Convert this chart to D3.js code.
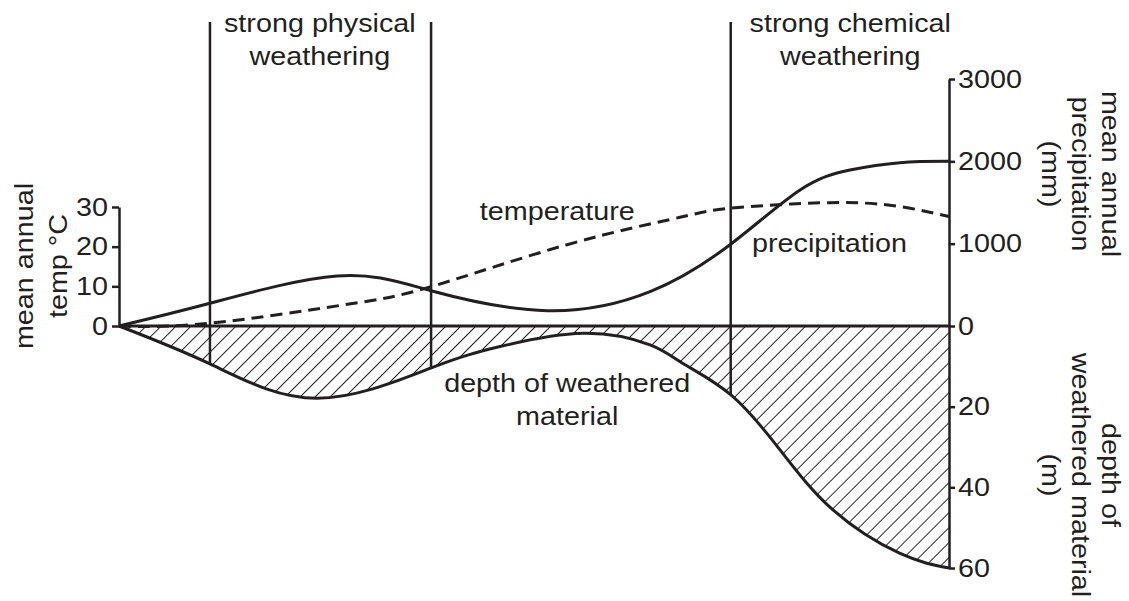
<!DOCTYPE html>
<html>
<head>
<meta charset="utf-8">
<script src="https://cdn.jsdelivr.net/npm/d3@7"></script>
<style>
  body { margin: 0; background: #fff; }
  svg { display: block; font-family: "Liberation Sans", Arial, Helvetica, sans-serif; }
</style>
</head>
<body>
<svg id="chart" width="1129" height="601"></svg>
<script>
// position along the climate gradient, 0 = cold and dry, 100 = hot and wet
const precipPos = [0, 10.96, 26.27, 37.71, 51.57, 63.98, 73.73, 82.05, 88.07, 94.1, 100];
const precipMm  = [0, 276, 607, 425, 186, 417, 996, 1652, 1895, 1984, 2000];

const tempPos = [0, 10.96, 26.99, 37.59, 53.98, 67.59, 73.73, 85.66, 94.1, 100];
const tempC   = [0, 0.7, 5.3, 9.9, 20.5, 27.4, 29.7, 31.1, 30.1, 27.6];

const depthPos = [0, 10.96, 23.86, 37.71, 45.9, 55.9, 63.98, 67.95, 73.73, 79.64, 86.02, 94.1, 100];
const depthM   = [0, 9.4, 17.9, 10.3, 5.1, 1.8, 4.7, 9.3, 17.1, 30.7, 45.6, 56.4, 60];

// boundaries of the weathering zones
const zoneBounds = [10.96, 37.6, 73.7];

const tempTicks = [0, 10, 20, 30];
const precipTicks = [0, 1000, 2000, 3000];
const depthTicks = [20, 40, 60];

const ink = '#231f20';
const fontSize = 25;
const stretch = 1.15; // text in the reference is a bit wide

const svg = d3.select('#chart');

const x = d3.scaleLinear().domain([0, 100]).range([119, 949]);
const yT = d3.scaleLinear().domain([0, 30]).range([326, 207]);
const yP = d3.scaleLinear().domain([0, 3000]).range([326, 79]);
const yD = d3.scaleLinear().domain([0, 60]).range([326, 568]);

const curve = d3.curveNatural;

// hatch pattern for the weathered material
const defs = svg.append('defs');
defs.append('pattern')
    .attr('id', 'hatch')
    .attr('patternUnits', 'userSpaceOnUse')
    .attr('width', 10.6)
    .attr('height', 10.6)
    .attr('patternTransform', 'rotate(45)')
    .append('line')
    .attr('x1', 5.3).attr('y1', -1)
    .attr('x2', 5.3).attr('y2', 12)
    .attr('stroke', ink)
    .attr('stroke-width', 1);

const depthData = d3.zip(depthPos, depthM);

svg.append('path')
    .datum(depthData)
    .attr('fill', 'url(#hatch)')
    .attr('d', d3.area()
        .x(d => x(d[0]))
        .y0(yD(0))
        .y1(d => yD(d[1]))
        .curve(curve));

// zero line
svg.append('line')
    .attr('x1', x(0)).attr('x2', x(100))
    .attr('y1', yD(0)).attr('y2', yD(0))
    .attr('stroke', ink).attr('stroke-width', 3);

const depthPath = svg.append('path')
    .datum(depthData)
    .attr('fill', 'none')
    .attr('stroke', ink)
    .attr('stroke-width', 3)
    .attr('d', d3.line()
        .x(d => x(d[0]))
        .y(d => yD(d[1]))
        .curve(curve));

svg.append('path')
    .datum(d3.zip(precipPos, precipMm))
    .attr('fill', 'none')
    .attr('stroke', ink)
    .attr('stroke-width', 3)
    .attr('d', d3.line()
        .x(d => x(d[0]))
        .y(d => yP(d[1]))
        .curve(curve));

svg.append('path')
    .datum(d3.zip(tempPos, tempC))
    .attr('fill', 'none')
    .attr('stroke', ink)
    .attr('stroke-width', 3)
    .attr('stroke-dasharray', '12,7')
    .attr('d', d3.line()
        .x(d => x(d[0]))
        .y(d => yT(d[1]))
        .curve(curve));

// find y of the depth curve at screen x
function depthYAt(px) {
    const node = depthPath.node();
    let lo = 0, hi = node.getTotalLength();
    for (let i = 0; i < 40; i++) {
        const mid = (lo + hi) / 2;
        if (node.getPointAtLength(mid).x < px) lo = mid; else hi = mid;
    }
    return node.getPointAtLength(lo).y;
}

svg.selectAll('line.zone')
    .data(zoneBounds)
    .enter()
    .append('line')
    .attr('class', 'zone')
    .attr('x1', d => x(d)).attr('x2', d => x(d))
    .attr('y1', 22)
    .attr('y2', d => depthYAt(x(d)))
    .attr('stroke', ink)
    .attr('stroke-width', 2.5);

// axes
function styleAxis(g) {
    g.attr('font-size', fontSize).attr('font-family', null);
    g.select('.domain').attr('stroke', ink).attr('stroke-width', 2.5);
    g.selectAll('.tick line').attr('stroke', ink).attr('stroke-width', 2.5);
    g.selectAll('.tick text').attr('fill', ink).each(function () {
        const t = d3.select(this);
        const tx = +t.attr('x');
        t.attr('x', 0).attr('transform', `translate(${tx},0) scale(${stretch},1)`);
    });
}

const plain = d3.format('d');

svg.append('g')
    .attr('transform', `translate(${x(0)},0)`)
    .call(d3.axisLeft(yT).tickValues(tempTicks).tickFormat(plain).tickSize(7).tickPadding(4).tickSizeOuter(0))
    .call(styleAxis);

svg.append('g')
    .attr('transform', `translate(${x(100)},0)`)
    .call(d3.axisRight(yP).tickValues(precipTicks).tickFormat(plain).tickSize(6).tickPadding(3).tickSizeOuter(0))
    .call(styleAxis);

svg.append('g')
    .attr('transform', `translate(${x(100)},0)`)
    .call(d3.axisRight(yD).tickValues(depthTicks).tickFormat(plain).tickSize(6).tickPadding(3).tickSizeOuter(0))
    .call(styleAxis);

// text labels
function label(lines, px, py, rot, lineGap) {
    const t = svg.append('text')
        .attr('transform', `translate(${px},${py}) rotate(${rot}) scale(${stretch},1)`)
        .attr('text-anchor', 'middle')
        .attr('font-size', fontSize)
        .attr('fill', ink);
    lines.forEach((s, i) => {
        t.append('tspan').attr('x', 0).attr('y', i * lineGap).text(s);
    });
}

label(['strong physical', 'weathering'], x(24.2), 31.5, 0, 34);
label(['strong chemical', 'weathering'], x(88.1), 31.5, 0, 34);
label(['temperature'], x(52.8), 220, 0, 0);
label(['precipitation'], x(85.6), 252, 0, 0);
label(['depth of weathered', 'material'], x(54), 392, 0, 33);

label(['mean annual', 'temp °C'], 33, 266, -90, 34);
label(['mean annual', 'precipitation', '(mm)'], 1102, 174, 90, 30);
label(['depth of', 'weathered material', '(m)'], 1102, 475, 90, 30);
</script>
</body>
</html>
